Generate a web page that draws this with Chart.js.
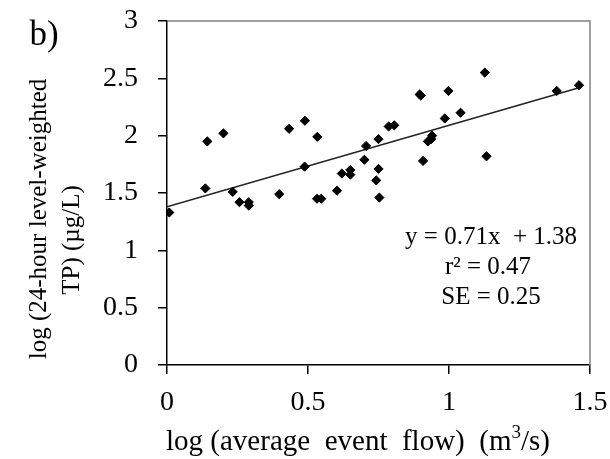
<!DOCTYPE html>
<html>
<head>
<meta charset="utf-8">
<script src="https://cdn.jsdelivr.net/npm/chart.js@4"></script>
<style>
html,body{margin:0;padding:0;background:#fff;}
canvas{display:block;}
</style>
</head>
<body>
<canvas id="c" width="610" height="459" style="width:610px;height:459px"></canvas>
<script>
// ---- data ----
const flowLog = [0.008,0.136,0.143,0.20,0.233,0.257,0.29,0.29,0.398,0.433,0.488,0.489,0.532,0.547,0.533,0.603,0.62,0.65,0.65,0.70,0.706,0.742,0.75,0.753,0.75,0.786,0.806,0.896,0.90,0.908,0.925,0.937,0.94,0.985,0.998,1.041,1.127,1.133,1.382,1.461];
const tpLog   = [1.33,1.54,1.95,2.02,1.51,1.42,1.42,1.39,1.49,2.06,1.73,2.13,1.45,1.45,1.99,1.52,1.67,1.70,1.66,1.79,1.91,1.61,1.71,1.46,1.97,2.08,2.09,2.36,2.35,1.78,1.95,1.97,2.00,2.15,2.39,2.20,2.55,1.82,2.39,2.44];
const slope = 0.71;
const intercept = 1.38;
const xTickValues = [0, 0.5, 1, 1.5];
const yTickValues = [0, 0.5, 1, 1.5, 2, 2.5, 3];
const annotationLines = ["y = 0.71x  + 1.38", "r\u00B2 = 0.47", "SE = 0.25"];
const panelLabel = "b)";
const yTitleLines = ["log (24-hour level-weighted", "TP) (\u00B5g/L)"];
const xTitleParts = ["log (average  event  flow)  (m", "3", "/s)"];

const points = flowLog.map((x, i) => ({x: x, y: tpLog[i]}));
const xLineEnd = Math.max.apply(null, flowLog);
const fitLine = [0, xLineEnd].map(x => ({x: x, y: intercept + slope * x}));

const SERIF = "'Liberation Serif', 'Times New Roman', serif";

const extras = {
  id: 'extras',
  beforeDraw(chart) {
    const ctx = chart.ctx;
    ctx.save();
    ctx.fillStyle = '#fff';
    ctx.fillRect(0, 0, chart.width, chart.height);
    ctx.restore();
  },
  afterDraw(chart) {
    const ctx = chart.ctx;
    const a = chart.chartArea;
    ctx.save();
    // top/right frame
    ctx.strokeStyle = '#808080';
    ctx.lineWidth = 1.5;
    ctx.beginPath();
    ctx.moveTo(a.left, a.top);
    ctx.lineTo(a.right, a.top);
    ctx.lineTo(a.right, a.bottom);
    ctx.stroke();

    ctx.fillStyle = '#000';
    // panel label
    ctx.font = "35px " + SERIF;
    ctx.textAlign = 'center';
    ctx.textBaseline = 'middle';
    ctx.fillText(panelLabel, 44, 36);

    // annotation
    ctx.font = "25px " + SERIF;
    const annX = [491, 488, 491];
    const annY = [237, 267, 297];
    annotationLines.forEach((t, i) => ctx.fillText(t, annX[i], annY[i]));

    // y title
    ctx.font = "25px " + SERIF;
    ctx.save();
    ctx.translate(39, 219);
    ctx.rotate(-Math.PI / 2);
    ctx.fillText(yTitleLines[0], 0, 0);
    ctx.restore();
    ctx.save();
    ctx.translate(72, 240);
    ctx.rotate(-Math.PI / 2);
    ctx.fillText(yTitleLines[1], 0, 0);
    ctx.restore();

    // x title with superscript
    const big = "29px " + SERIF, small = "19px " + SERIF;
    ctx.textAlign = 'left';
    ctx.textBaseline = 'alphabetic';
    ctx.font = big; const w0 = ctx.measureText(xTitleParts[0]).width;
    ctx.font = small; const w1 = ctx.measureText(xTitleParts[1]).width;
    ctx.font = big; const w2 = ctx.measureText(xTitleParts[2]).width;
    let x = 358 - (w0 + w1 + w2) / 2;
    const base = 450;
    ctx.font = big; ctx.fillText(xTitleParts[0], x, base); x += w0;
    ctx.font = small; ctx.fillText(xTitleParts[1], x, base - 12); x += w1;
    ctx.font = big; ctx.fillText(xTitleParts[2], x, base);
    ctx.restore();
  }
};

const fmt = v => String(Math.round(v * 10) / 10);

new Chart(document.getElementById('c'), {
  type: 'scatter',
  data: {
    datasets: [
      {
        data: points,
        pointStyle: 'rectRot',
        pointRadius: 4.6,
        backgroundColor: '#000',
        borderColor: '#000',
        borderWidth: 1,
        order: 1
      },
      {
        type: 'line',
        data: fitLine,
        borderColor: '#222',
        borderWidth: 1.5,
        pointRadius: 0,
        fill: false,
        order: 2
      }
    ]
  },
  options: {
    responsive: false,
    animation: false,
    devicePixelRatio: 1,
    layout: { padding: { left: 0, top: 21, right: 20, bottom: 0 } },
    plugins: { legend: { display: false }, tooltip: { enabled: false } },
    scales: {
      x: {
        type: 'linear',
        min: xTickValues[0],
        max: xTickValues[xTickValues.length - 1],
        afterBuildTicks(s) { s.ticks = xTickValues.map(v => ({value: v})); },
        afterFit(s) { s.height = 94; s.paddingLeft = 0; s.paddingRight = 0; },
        border: { display: true, color: '#000', width: 1.5 },
        grid: { display: true, drawOnChartArea: false, drawTicks: true, tickLength: 9, color: '#000', lineWidth: 1.5 },
        ticks: { color: '#000', font: { family: SERIF, size: 28 }, padding: 12, maxRotation: 0, autoSkip: false, callback: fmt }
      },
      y: {
        type: 'linear',
        min: yTickValues[0],
        max: yTickValues[yTickValues.length - 1],
        afterBuildTicks(s) { s.ticks = yTickValues.map(v => ({value: v})); },
        afterFit(s) { s.width = 167; s.paddingTop = 0; s.paddingBottom = 0; },
        border: { display: true, color: '#000', width: 1.5 },
        grid: { display: true, drawOnChartArea: false, drawTicks: true, tickLength: 9, color: '#000', lineWidth: 1.5 },
        ticks: { color: '#000', font: { family: SERIF, size: 28 }, padding: 20, autoSkip: false, callback: fmt }
      }
    }
  },
  plugins: [extras]
});
</script>
</body>
</html>
